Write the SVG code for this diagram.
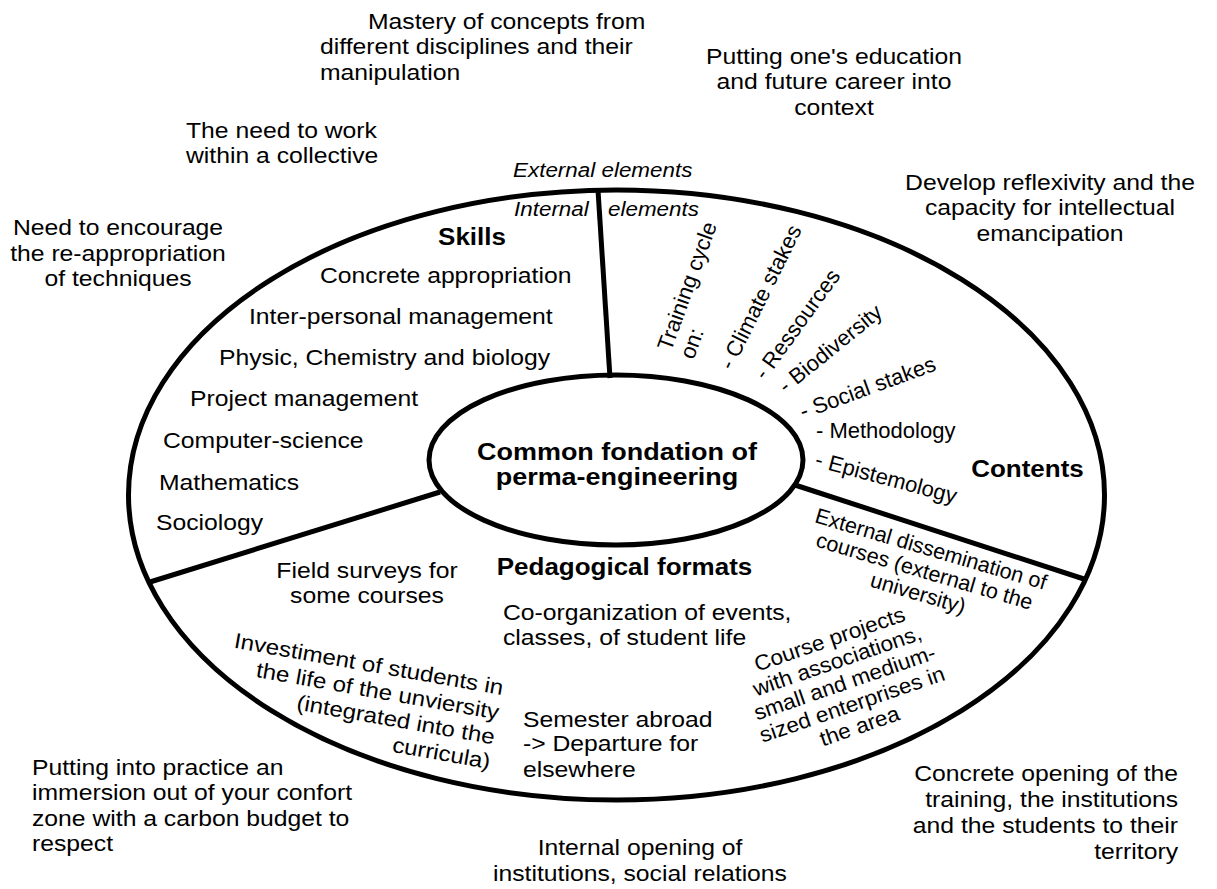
<svg xmlns="http://www.w3.org/2000/svg" width="1217" height="889" viewBox="0 0 1217 889">
<style>
.t{font-family:"Liberation Sans",Arial,sans-serif;font-size:21.5px;fill:#000}
.c{font-size:22px}
.b{font-weight:bold;font-size:23px}
.bc{font-weight:bold;font-size:24.5px}
.i{font-style:italic;font-size:19.5px}
.m{text-anchor:middle}
.e{text-anchor:end}
.ln{fill:none;stroke:#000;stroke-width:5}
</style>
<rect width="1217" height="889" fill="#fff"/>
<g id="outer-ring">
<ellipse class="ln" cx="616.5" cy="495" rx="488" ry="305" fill="#fff"/>
</g>
<g id="connectors">
<line class="ln" x1="598" y1="190" x2="610" y2="378"/>
<line class="ln" x1="440" y1="492" x2="150" y2="582"/>
<line class="ln" x1="795" y1="485" x2="1087" y2="580"/>
</g>
<g id="core">
<ellipse class="ln" cx="616" cy="460" rx="187" ry="85" fill="#fff"/>
<text class="t bc m" transform="translate(617,460) scale(1.1 1)"><tspan x="0" y="0">Common fondation of</tspan><tspan x="0" dy="25.5">perma-engineering</tspan></text>
</g>
<g id="boundary-labels">
<text class="t i" transform="translate(513,177) scale(1.15 1)">External elements</text>
<text class="t i" transform="translate(514,216) scale(1.15 1)">Internal</text>
<text class="t i" transform="translate(608,216) scale(1.15 1)">elements</text>
</g>
<g id="skills">
<text class="t b m" transform="translate(472,245) scale(1.13 1)">Skills</text>
<text class="t" transform="translate(320,283) scale(1.15 1)">Concrete appropriation</text>
<text class="t" transform="translate(249,324) scale(1.15 1)">Inter-personal management</text>
<text class="t" transform="translate(219,365) scale(1.15 1)">Physic, Chemistry and biology</text>
<text class="t" transform="translate(190,406) scale(1.15 1)">Project management</text>
<text class="t" transform="translate(163,448) scale(1.15 1)">Computer-science</text>
<text class="t" transform="translate(159,490) scale(1.15 1)">Mathematics</text>
<text class="t" transform="translate(156,530) scale(1.15 1)">Sociology</text>
</g>
<g id="contents">
<text class="t b m" transform="translate(1027.5,477) scale(1.13 1)">Contents</text>
<text class="t c" transform="translate(671,352) rotate(-70)"><tspan x="0" y="0">Training cycle</tspan><tspan x="0" dy="24">on:</tspan></text>
<text class="t c" transform="translate(732,371) rotate(-63.6)">- Climate stakes</text>
<text class="t c" transform="translate(765,381) rotate(-54)">- Ressources</text>
<text class="t c" transform="translate(786,394) rotate(-39)">- Biodiversity</text>
<text class="t c" transform="translate(803,419) rotate(-20)">- Social stakes</text>
<text class="t c" transform="translate(816,438)">- Methodology</text>
<text class="t c" transform="translate(814,466) rotate(15)">- Epistemology</text>
</g>
<g id="pedagogical-formats">
<text class="t b m" transform="translate(624.5,575) scale(1.13 1)">Pedagogical formats</text>
<text class="t m" transform="translate(367,578) scale(1.15 1)"><tspan x="0" y="0">Field surveys for</tspan><tspan x="0" dy="25">some courses</tspan></text>
<text class="t" transform="translate(503,620) scale(1.15 1)"><tspan x="0" y="0">Co-organization of events,</tspan><tspan x="0" dy="25">classes, of student life</tspan></text>
<text class="t" transform="translate(523,727) scale(1.15 1)"><tspan x="0" y="0">Semester abroad</tspan><tspan x="0" dy="24.5">-&gt; Departure for</tspan><tspan x="0" dy="25.5">elsewhere</tspan></text>
<text class="t e" transform="translate(502,695) rotate(10) scale(1.12 1)"><tspan x="0" y="0">Investiment of students in</tspan><tspan x="0" dy="25">the life of the unviersity</tspan><tspan x="0" dy="25">(integrated into the</tspan><tspan x="0" dy="25">curricula)</tspan></text>
<text class="t m" transform="translate(832,646) rotate(-19) scale(1.05 1)"><tspan x="0" y="0">Course projects</tspan><tspan x="0" dy="23">with associations,</tspan><tspan x="0" dy="23">small and medium-</tspan><tspan x="0" dy="23">sized enterprises in</tspan><tspan x="0" dy="23">the area</tspan></text>
<text class="t m" transform="translate(929,556) rotate(16.4)"><tspan x="0" y="0">External dissemination of</tspan><tspan x="0" dy="23">courses (external to the</tspan><tspan x="0" dy="23">university)</tspan></text>
</g>
<g id="external-issues">
<text class="t" transform="translate(368,29) scale(1.15 1)">Mastery of concepts from</text>
<text class="t" transform="translate(320,54) scale(1.15 1)">different disciplines and their</text>
<text class="t" transform="translate(320,80) scale(1.15 1)">manipulation</text>
<text class="t m" transform="translate(834,64) scale(1.15 1)"><tspan x="0" y="0">Putting one's education</tspan><tspan x="0" dy="25.5">and future career into</tspan><tspan x="0" dy="25.5">context</tspan></text>
<text class="t" transform="translate(186,138) scale(1.15 1)"><tspan x="0" y="0">The need to work</tspan><tspan x="0" dy="25.5">within a collective</tspan></text>
<text class="t m" transform="translate(1050,190) scale(1.15 1)"><tspan x="0" y="0">Develop reflexivity and the</tspan><tspan x="0" dy="25.5">capacity for intellectual</tspan><tspan x="0" dy="25.5">emancipation</tspan></text>
<text class="t m" transform="translate(118,235) scale(1.15 1)"><tspan x="0" y="0">Need to encourage</tspan><tspan x="0" dy="25.7">the re-appropriation</tspan><tspan x="0" dy="25.7">of techniques</tspan></text>
<text class="t" transform="translate(32,775) scale(1.15 1)"><tspan x="0" y="0">Putting into practice an</tspan><tspan x="0" dy="25.5">immersion out of your confort</tspan><tspan x="0" dy="25.5">zone with a carbon budget to</tspan><tspan x="0" dy="25.5">respect</tspan></text>
<text class="t m" transform="translate(640,855) scale(1.15 1)"><tspan x="0" y="0">Internal opening of</tspan><tspan x="0" dy="26">institutions, social relations</tspan></text>
<text class="t e" transform="translate(1178,781) scale(1.15 1)"><tspan x="0" y="0">Concrete opening of the</tspan><tspan x="0" dy="26">training, the institutions</tspan><tspan x="0" dy="26">and the students to their</tspan><tspan x="0" dy="26">territory</tspan></text>
</g>
</svg>
